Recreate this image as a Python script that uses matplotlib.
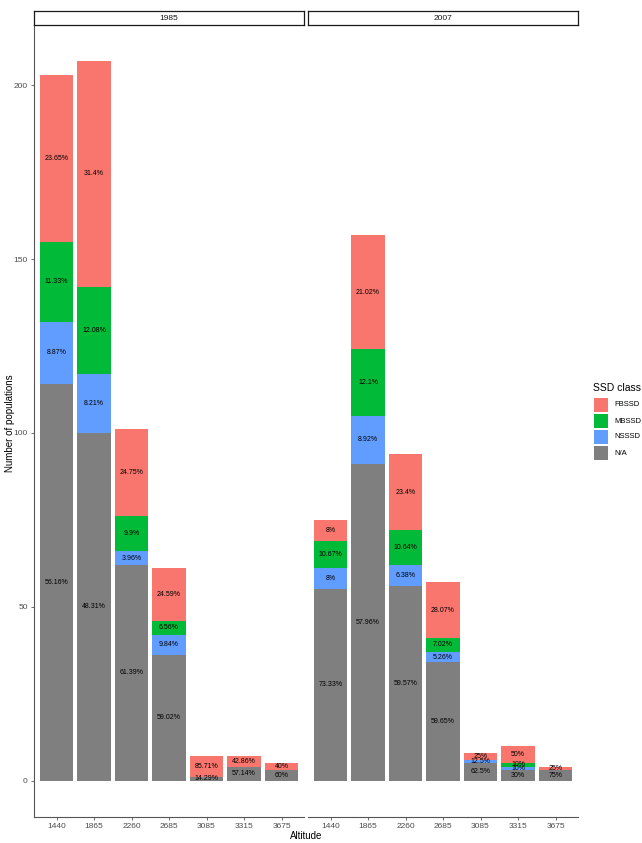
import matplotlib.pyplot as plt
from matplotlib.patches import Rectangle

plt.rcParams['font.family'] = ['Liberation Sans', 'DejaVu Sans']

# data (counts of populations)
altitudes = ['1440', '1865', '2260', '2685', '3085', '3315', '3675']
years = ['1985', '2007']
classes = ['FBSSD', 'MBSSD', 'NSSSD', 'N/A']
colors = ['#F8766D', '#00BA38', '#619CFF', '#7F7F7F']

fb_1985 = [48, 65, 25, 15, 6, 3, 2]
mb_1985 = [23, 25, 10, 4, 0, 0, 0]
ns_1985 = [18, 17, 4, 6, 0, 0, 0]
na_1985 = [114, 100, 62, 36, 1, 4, 3]

fb_2007 = [6, 33, 22, 16, 2, 5, 1]
mb_2007 = [8, 19, 10, 4, 0, 1, 0]
ns_2007 = [6, 14, 6, 3, 1, 1, 0]
na_2007 = [55, 91, 56, 34, 5, 3, 3]

counts = {
    '1985': [fb_1985, mb_1985, ns_1985, na_1985],
    '2007': [fb_2007, mb_2007, ns_2007, na_2007],
}

W, H = 642, 843
fig = plt.figure(figsize=(W / 100, H / 100), dpi=100)

panel_left = [34, 308]
panel_w = 270
top, bottom = 25, 816.5
ymax = max(sum(s[i] for s in counts[yr]) for yr in years for i in range(len(altitudes)))

def pct_label(v, total):
    p = round(v / total * 100, 2)
    return f"{p:g}%"

for k, yr in enumerate(years):
    ax = fig.add_axes([panel_left[k] / W, 1 - bottom / H, panel_w / W, (bottom - top) / H])
    series = counts[yr]
    x = range(len(altitudes))
    totals = [sum(s[i] for s in series) for i in x]
    base = [0] * len(altitudes)
    # stack from the bottom: N/A, NSSSD, MBSSD, FBSSD
    for ci in [3, 2, 1, 0]:
        vals = series[ci]
        ax.bar(x, vals, bottom=base, width=0.9, color=colors[ci], linewidth=0)
        for i in x:
            if vals[i] > 0:
                ax.text(i, base[i] + vals[i] / 2, pct_label(vals[i], totals[i]),
                        ha='center', va='center', fontsize=5, color='black')
        base = [b + v for b, v in zip(base, vals)]

    ax.set_xlim(-0.6, len(altitudes) - 0.4)
    ax.set_ylim(-0.05 * ymax, 1.05 * ymax)
    ax.set_xticks(list(x))
    ax.set_xticklabels(altitudes)
    for s in ['top', 'right']:
        ax.spines[s].set_visible(False)
    ax.spines['bottom'].set_color('#555555')
    ax.spines['left'].set_color('#555555')
    ax.tick_params(labelsize=6, colors='#555555', labelcolor='#4D4D4D', length=2.5, width=0.6, pad=2)
    if k == 0:
        ax.set_yticks([0, 50, 100, 150, 200])
    else:
        ax.spines['left'].set_visible(False)
        ax.set_yticks([])

    # facet strip
    sax = fig.add_axes([panel_left[k] / W, 1 - top / H, panel_w / W, 14 / H])
    sax.set_xticks([])
    sax.set_yticks([])
    for s in sax.spines.values():
        s.set_linewidth(0.9)
        s.set_color('#1A1A1A')
    sax.text(0.5, 0.5, yr, ha='center', va='center', fontsize=6, color='#1A1A1A',
             transform=sax.transAxes)

fig.text(306 / W, 1 - 836 / H, 'Altitude', ha='center', va='center', fontsize=7)
fig.text(10 / W, 1 - 423 / H, 'Number of populations', ha='center', va='center',
         rotation=90, fontsize=7)

# legend drawn as keys in figure pixel positions
fig.text(593 / W, 1 - 388 / H, 'SSD class', ha='left', va='center', fontsize=7.5)
for j, (lab, c) in enumerate(zip(classes, colors)):
    y0 = 398 + 16 * j
    fig.add_artist(Rectangle((594 / W, 1 - (y0 + 14) / H), 14 / W, 14 / H,
                             facecolor=c, edgecolor='none', transform=fig.transFigure))
    fig.text(614 / W, 1 - (y0 + 7) / H, lab, ha='left', va='center', fontsize=5.5)

fig.savefig('out.png', dpi=100)
